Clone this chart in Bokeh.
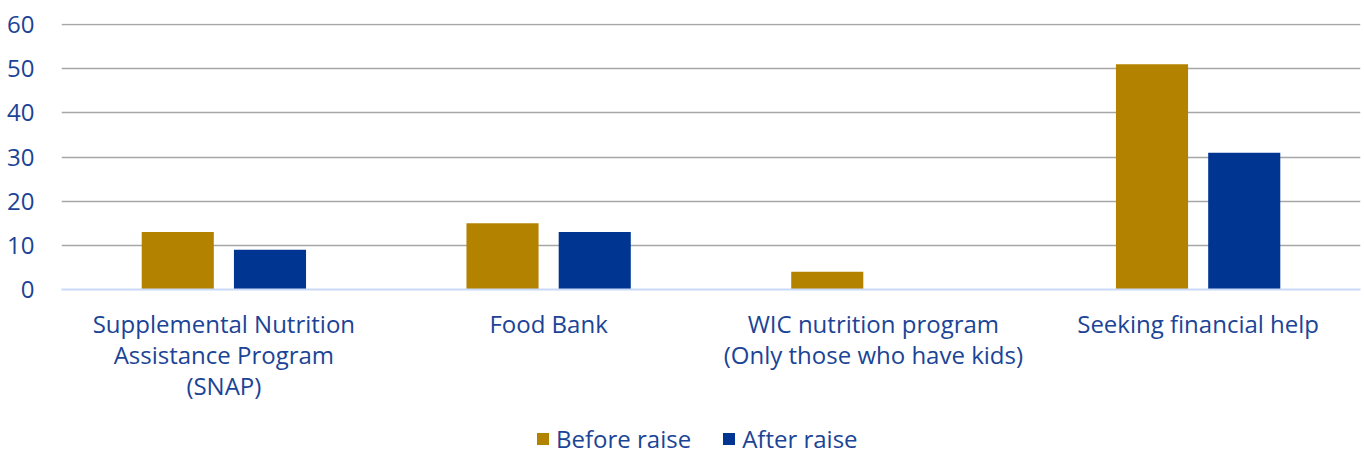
from bokeh.plotting import figure
from bokeh.layouts import column
from bokeh.models import ColumnDataSource, FactorRange, FixedTicker, Legend, LegendItem, Range1d
from bokeh.transform import dodge
from bokeh.embed import file_html
from bokeh.resources import INLINE

categories = ["Supplemental Nutrition\nAssistance Program\n(SNAP)", "Food Bank",
              "WIC nutrition program\n(Only those who have kids)", "Seeking financial help"]
before_raise = [13, 15, 4, 51]
after_raise = [9, 13, 0, 31]
y_ticks = [0, 10, 20, 30, 40, 50, 60]
series_labels = ["Before raise", "After raise"]

GOLD = "#B38300"
NAVY = "#003591"
TXT = "#1B4496"
FONT = "Open Sans"
FS = "24px"

src = ColumnDataSource(dict(cat=categories, before=before_raise, after=after_raise))

p = figure(width=1364, height=410, x_range=FactorRange(*categories, range_padding=0),
           y_range=Range1d(0, 60.25), output_backend="svg", toolbar_location=None,
           min_border_top=23, min_border_left=61, min_border_right=4, min_border_bottom=121)
p.outline_line_color = None
p.background_fill_color = "white"
p.border_fill_color = "white"

p.vbar(x=dodge("cat", -0.142, range=p.x_range), top="before", width=0.222, source=src,
       fill_color=GOLD, line_color=None)
p.vbar(x=dodge("cat", 0.142, range=p.x_range), top="after", width=0.222, source=src,
       fill_color=NAVY, line_color=None)

p.yaxis.ticker = FixedTicker(ticks=y_ticks)
p.yaxis.axis_line_color = None
p.yaxis.major_tick_line_color = None
p.yaxis.minor_tick_line_color = None
p.yaxis.major_label_text_font = FONT
p.yaxis.major_label_text_font_size = FS
p.yaxis.major_label_text_color = TXT
p.yaxis.major_label_standoff = 21

p.xaxis.axis_line_color = "#C9DAF8"
p.xaxis.axis_line_width = 2
p.xaxis.major_tick_line_color = None
p.xaxis.minor_tick_line_color = None
p.xaxis.major_label_text_font = FONT
p.xaxis.major_label_text_font_size = FS
p.xaxis.major_label_text_color = TXT
p.xaxis.major_label_text_line_height = 0.95
p.xaxis.major_label_standoff = 11

p.xgrid.grid_line_color = None
p.ygrid.ticker = FixedTicker(ticks=y_ticks[1:])
p.ygrid.grid_line_color = "#A6A6A6"
p.ygrid.grid_line_width = 1.5

# legend strip (swatch renderers sit outside the visible range)
p2 = figure(width=1364, height=45, output_backend="svg", toolbar_location=None,
            x_axis_type=None, y_axis_type=None, min_border=0,
            x_range=Range1d(0, 1), y_range=Range1d(0, 1))
p2.outline_line_color = None
p2.grid.grid_line_color = None
lr1 = p2.vbar(x=[-5], top=[-5], width=0.1, fill_color=GOLD, line_color=None)
lr2 = p2.vbar(x=[-5], top=[-5], width=0.1, fill_color=NAVY, line_color=None)
legend = Legend(items=[LegendItem(label=series_labels[0], renderers=[lr1]),
                       LegendItem(label=series_labels[1], renderers=[lr2])],
                orientation="horizontal", location=(474, 0))
legend.label_text_font = FONT
legend.label_text_font_size = FS
legend.label_text_color = TXT
legend.glyph_width = 15
legend.glyph_height = 15
legend.spacing = 30
legend.label_standoff = 6
legend.border_line_color = None
legend.background_fill_alpha = 0
legend.padding = 0
legend.margin = 0
p2.add_layout(legend, "center")

layout = column(p, p2, spacing=0)
open("out.html", "w").write(file_html(layout, INLINE))
